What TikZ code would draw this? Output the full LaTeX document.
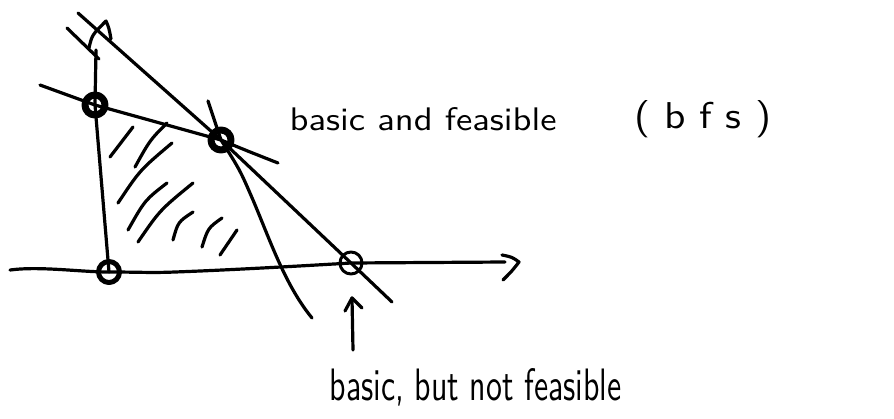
\documentclass[tikz,border=0pt]{standalone}
\usepackage{graphicx}
\begin{document}
\begin{tikzpicture}[x=1pt,y=-1pt, line width=3.2pt, line cap=round, line join=round,
  pen/.style={draw=black, line width=3.2pt},
  vtx/.style={circle, draw=black, line width=7pt, minimum size=20pt, inner sep=0pt},
  ovtx/.style={circle, draw=black, line width=3pt, minimum size=22pt, inner sep=0pt},
  hatchline/.style={draw=black, line width=3.2pt},
  lbl/.style={inner sep=0pt, anchor=base west, font=\sffamily}]
\useasboundingbox (0,0) rectangle (894,418);
% key points
\coordinate (O) at (109,272);
\coordinate (A) at (95,105);
\coordinate (B) at (221,140);
\coordinate (D) at (351,263);
% axes end points
\coordinate (xs) at (10,270);
\coordinate (xm) at (175,272);
\coordinate (xe) at (505,262);
\coordinate (yt) at (96,50);
% constraint line end points
\coordinate (l1s) at (40,85);
\coordinate (l1e) at (278,163);
\coordinate (l2s) at (78,13);
\coordinate (l2e) at (392,302);
\coordinate (l2bs) at (67,28);
\coordinate (l2be) at (99,59);
\coordinate (l3s) at (208,101);
\coordinate (l3m) at (253,200);
\coordinate (l3e) at (312,318);
% arrow of the pointer
\coordinate (ps) at (353,350);
\coordinate (pe) at (352,298);
% axes
\draw[pen] (xs) .. controls (40,266) and (80,272) .. (O) .. controls (140,272) and (150,273) .. (xm)
  .. controls (230,270) and (300,266) .. (D) -- (xe);
\draw[pen] (502,255) .. controls (512,257) .. (519,262) .. controls (512,271) .. (503,280);
\draw[pen] (O) -- (A) -- (yt);
\draw[pen] (89,48) .. controls (92,35) .. (106,21) .. controls (109,28) .. (111,39);
% constraint lines
\draw[pen] (l1s) -- (A) -- (B) .. controls (245,150) .. (l1e);
\draw[pen] (l2s) -- (B) -- (D) -- (l2e);
\draw[pen] (l2bs) -- (l2be);
\draw[pen] (l3s) -- (B) .. controls (240,170) .. (l3m) .. controls (270,240) and (285,285) .. (l3e);
% hatching of the feasible region
\draw[hatchline] (133,127) -- (110,157);
\draw[hatchline] (167,123) .. controls (150,140) .. (135,167);
\draw[hatchline] (172,143) .. controls (140,170) .. (118,203);
\draw[hatchline] (167,183) .. controls (145,200) .. (128,230);
\draw[hatchline] (193,183) .. controls (160,210) .. (138,242);
\draw[hatchline] (193,212) .. controls (178,222) .. (173,240);
\draw[hatchline] (222,218) .. controls (208,228) .. (202,247);
\draw[hatchline] (237,230) -- (220,255);
% vertices
\node[vtx] (vA) at (A) {};
\node[vtx] (vB) at (B) {};
\node[vtx, line width=5pt, minimum size=21pt] (vO) at (O) {};
\node[ovtx] (vD) at (D) {};
% pointer arrow
\draw[pen] (ps) -- (pe);
\draw[pen] (345,311) -- (pe) -- (362,308);
% labels
\node[lbl] (t1) at (288,130) {\resizebox{267pt}{23pt}{basic and feasible}};
\node[lbl] (t2) at (633,128) {\resizebox{137pt}{28pt}{( b f s )}};
\node[lbl] (t3) at (328,400) {\resizebox{292pt}{32pt}{basic, but not feasible}};
\end{tikzpicture}
\end{document}
